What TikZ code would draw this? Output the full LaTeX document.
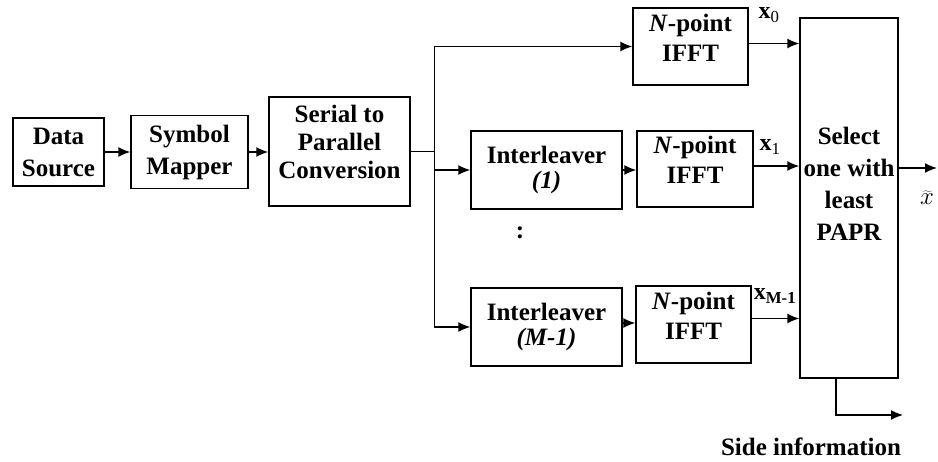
\documentclass[tikz,border=0pt]{standalone}
\usepackage{fontspec}
\setmainfont{Liberation Serif}
\usetikzlibrary{positioning,arrows.meta}

\begin{document}
\begin{tikzpicture}[x=1pt, y=-1pt, line width=1.4pt, >={Latex[length=12pt,width=10pt]},
    block/.style = {draw, inner sep=0pt, align=center, font=\bfseries\fontsize{25}{32}\selectfont},
    ifft/.style = {block, minimum width=115pt, minimum height=77pt, text depth=18pt, font=\bfseries\fontsize{25}{30}\selectfont},
    inter/.style = {block, minimum width=151pt, minimum height=78pt, font=\bfseries\fontsize{25}{25}\selectfont},
    lbl/.style = {inner sep=0pt, font=\fontsize{24}{24}\selectfont}]
    \useasboundingbox (0,0) rectangle (938,461);
    % chain on the left
    \node[block, minimum width=91pt, minimum height=68pt] (src) at (58.5,152) {Data\\Source};
    \node[block, minimum width=117pt, minimum height=73pt] (map) at (189.5,152) {Symbol\\Mapper};
    \node[block, minimum width=141pt, minimum height=109pt, text depth=20pt] (sp) at (339.5,151.5) {Serial to\\[-4pt]Parallel\\[-4pt]Conversion};
    \coordinate[right=24pt of sp.east] (bus);
    % branches
    \node[ifft] (f0) at (690.5,46.5) {\textit{N}-point\\IFFT};
    \node[inter] (il1) at (546.5,170) {Interleaver\\\textit{(1)}};
    \node[ifft, minimum width=116pt, minimum height=76pt] (f1) at (695,169) {\textit{N}-point\\IFFT};
    \node[inter] (ilm) at (546.5,327) {Interleaver\\\textit{(M-1)}};
    \node[ifft] (fm) at (693.5,324.5) {\textit{N}-point\\IFFT};
    \node[font=\bfseries\fontsize{25}{25}\selectfont] (dots) at (520,233) {:};
    \node[block, minimum width=98pt, minimum height=360pt, text depth=29pt] (sel) at (849,198) {Select\\one with\\least\\PAPR};
    % labels
    \node[lbl] (x0) at (769,15) {\textbf{x}\textsubscript{0}};
    \node[lbl] (x1) at (770,147) {\textbf{x}\textsubscript{1}};
    \node[lbl] (xm) at (775,296) {\textbf{x}\textsubscript{\textbf{M-1}}};
    \node[font=\fontsize{25}{25}\selectfont] (xt) at (927,198) {$\widetilde{x}$};
    \node[font=\bfseries\fontsize{25}{25}\selectfont] (sinfo) at (811,447) {Side information};
    \coordinate (out) at (937,168);
    \coordinate (side) at (903,415);
    % connectors
    \draw[->] (src.east) -- (src.east -| map.west);
    \draw[->] (map.east) -- (map.east -| sp.west);
    \draw (sp.east) -- (bus);
    \draw[->] (bus) |- (f0.west);
    \draw[->] (bus) |- (ilm.west);
    \draw[->] (bus |- il1.west) -- (il1.west);
    \draw[->] (il1.east) -- (il1.east -| f1.west);
    \draw[->] ([yshift=4pt]ilm.east) -- ([yshift=4pt]ilm.east -| fm.west);
    \draw[->] ([yshift=3pt]f0.east) -- ([yshift=3pt]f0.east -| sel.west);
    \draw[->] ([yshift=3pt]f1.east) -- ([yshift=3pt]f1.east -| sel.west);
    \draw[->] ([yshift=6pt]fm.east) -- ([yshift=6pt]fm.east -| sel.west);
    \draw[->] (sel.east |- out) -- (out);
    \draw[->] ([xshift=-13pt]sel.south) |- (side);
\end{tikzpicture}
\end{document}
